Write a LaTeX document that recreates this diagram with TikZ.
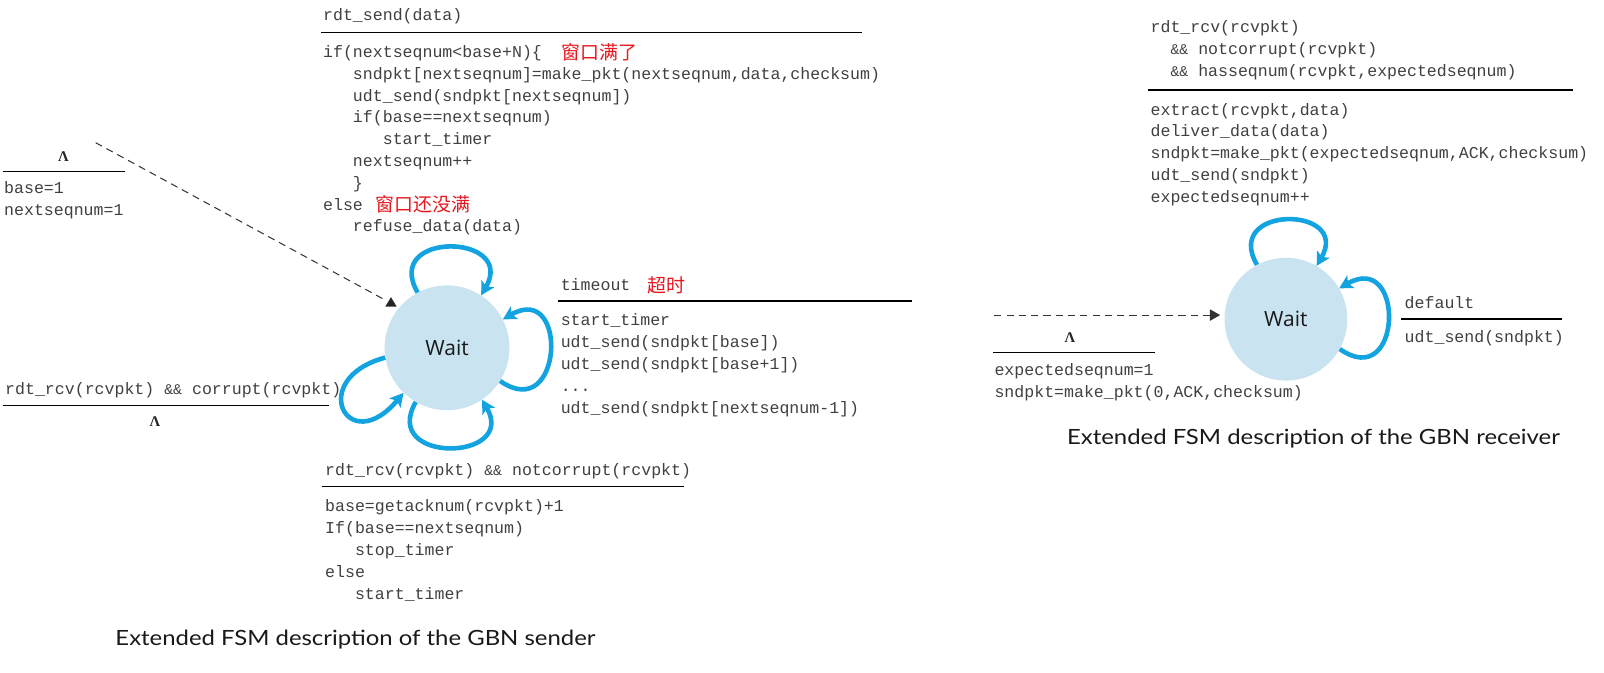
\documentclass[tikz,border=0pt]{standalone}
\usepackage{fontspec}
\usetikzlibrary{arrows.meta}
\newfontfamily\codefont{Liberation Mono}
\newfontfamily\cjkfont{Noto Sans CJK SC}
\newfontfamily\capfont{Lato}
\newfontfamily\waitfont{Open Sans}
\newfontfamily\lamfont{Liberation Serif}
\definecolor{codegray}{HTML}{404040}
\definecolor{cnred}{HTML}{E8161E}
\definecolor{statefill}{HTML}{C9E3F1}
\definecolor{loopblue}{HTML}{13A3E0}
\newcommand\tabi{\phantom{xxx}}
\newcommand\tabii{\phantom{xx}}
\newcommand\lamsym{{\lamfont\bfseries\fontsize{14.5}{14.5}\selectfont Λ}}
\newcommand\andand{{\fontsize{14.5}{14.5}\selectfont\&\&}}
\newcommand\capbox[1]{\scalebox{1.14}[1]{#1}}
\begin{document}
\begin{tikzpicture}[x=1pt,y=-1pt,
  code/.style={font=\codefont\fontsize{16.2}{21.3}\selectfont, text=codegray, anchor=north west, inner sep=0pt, align=left},
  cn/.style={font=\cjkfont\fontsize{18.5}{18.5}\selectfont, text=cnred, anchor=west, inner sep=0pt},
  rulel/.style={line width=1.2pt},
  state/.style={circle, fill=statefill, minimum size=122pt, inner sep=0pt, font=\waitfont\fontsize{20.5}{20.5}\selectfont, text=black!90},
  selfloop/.style={line width=4.5pt, draw=loopblue, -{Stealth[length=13pt,width=14pt,inset=3pt]}},
  initline/.style={draw=black!80, line width=1pt, dash pattern=on 7pt off 5pt},
  initarrow/.style={initline, -{Triangle[length=10pt,width=11pt]}},
  lam/.style={inner sep=0pt, text=black!85},
  captext/.style={font=\capfont\fontsize{20.5}{20.5}\selectfont, inner sep=0pt, text=black!90}]
\useasboundingbox (0,0) rectangle (1568,657);

% ================= SENDER =================
\node[state] (sw) at (437,340) {Wait};

% top: rdt_send
\node[code] (sendev) at (315.7,5.3) {\strut rdt\_send(data)};
\draw[rulel] (313.8,31.6) -- (842.4,31.6);
\node[code] (sendact) at (315.7,41.2) {\strut if(nextseqnum<base+N)\{\\
\tabi sndpkt[nextseqnum]=make\_pkt(nextseqnum,data,checksum)\\
\tabi udt\_send(sndpkt[nextseqnum])\\
\tabi if(base==nextseqnum)\\
\tabi\tabi start\_timer\\
\tabi nextseqnum++\\
\tabi \}\\
else\\
\tabi refuse\_data(data)};
\node[cn] (red1) at (548.8,51) {窗口满了};
\node[cn] (red2) at (367,200) {窗口还没满};

% init
\coordinate (sini) at (93.5,139.5);
\node[lam] (slam1) at (62,153) {\lamsym};
\draw[rulel] (3.2,167.8) -- (122,167.8);
\node[code] (sinit) at (3.9,174) {\strut base=1\\nextseqnum=1};
\draw[initline, shorten >=15pt] (sini) -- (sw.140);
\fill[black!85] (382.2,290.5) -- (376.6,299.8) -- (387.8,299.8) -- cycle;

% left: corrupt
\node[code] (corev) at (4.9,370.6) {\strut rdt\_rcv(rcvpkt) \andand{} corrupt(rcvpkt)};
\draw[rulel] (3.2,396.2) -- (322,396.2);
\node[lam] (slam2) at (151.5,412) {\lamsym};

% right: timeout
\node[code] (toev) at (548,268.6) {\strut timeout};
\node[cn] (red3) at (633,278.6) {超时};
\draw[rulel] (545.4,294.2) -- (892,294.2);
\node[code] (toact) at (548,303.5) {\strut start\_timer\\
udt\_send(sndpkt[base])\\
udt\_send(sndpkt[base+1])\\
...\\
udt\_send(sndpkt[nextseqnum-1])};

% bottom: notcorrupt
\node[code] (ackev) at (317.7,450.1) {\strut rdt\_rcv(rcvpkt) \andand{} notcorrupt(rcvpkt)};
\draw[rulel] (315,475.7) -- (669,475.7);
\node[code] (ackact) at (317.7,485.3) {\strut base=getacknum(rcvpkt)+1\\
If(base==nextseqnum)\\
\tabi stop\_timer\\
else\\
\tabi start\_timer};

% loops
\draw[selfloop] (sw.118) .. controls +(120:70pt) and +(60:70pt) .. (sw.57);
\draw[selfloop] (sw.-32) .. controls +(-35:75pt) and +(30:75pt) .. (sw.27);
\draw[selfloop] (sw.-120) .. controls +(-120:70pt) and +(-60:70pt) .. (sw.-56);
\draw[selfloop] (sw.189) .. controls +(195:80pt) and +(230:85pt) .. (sw.226);

\node[captext] (scap) at (347.5,625.6) {\capbox{Extended FSM description of the GBN sender}};

% ================= RECEIVER =================
\node[state, minimum size=120pt] (rw) at (1257,312) {Wait};

\node[code] (rev) at (1124.6,16.7) {\strut rdt\_rcv(rcvpkt)\\
\tabii\andand{} notcorrupt(rcvpkt)\\
\tabii\andand{} hasseqnum(rcvpkt,expectedseqnum)};
\draw[rulel] (1122.5,88) -- (1537.4,88);
\node[code] (ract) at (1124.6,97.5) {\strut extract(rcvpkt,data)\\
deliver\_data(data)\\
sndpkt=make\_pkt(expectedseqnum,ACK,checksum)\\
udt\_send(sndpkt)\\
expectedseqnum++};

\coordinate (rini) at (972,308);
\draw[initarrow, shorten >=4pt] (rini) -- (rini -| rw.west);
\node[lam] (rlam) at (1046,330) {\lamsym};
\draw[rulel] (971,344.4) -- (1129,344.4);
\node[code] (rinit) at (972,351.7) {\strut expectedseqnum=1\\
sndpkt=make\_pkt(0,ACK,checksum)};

\node[code] (defev) at (1373,286) {\strut default};
\draw[rulel] (1370,311.8) -- (1527,311.8);
\node[code] (defact) at (1373,320) {\strut udt\_send(sndpkt)};

\draw[selfloop] (rw.118) .. controls +(120:68pt) and +(60:68pt) .. (rw.60);
\draw[selfloop] (rw.-29) .. controls +(-35:75pt) and +(30:75pt) .. (rw.30);

\node[captext] (rcap) at (1284,428.5) {\capbox{Extended FSM description of the GBN receiver}};
\end{tikzpicture}
\end{document}
